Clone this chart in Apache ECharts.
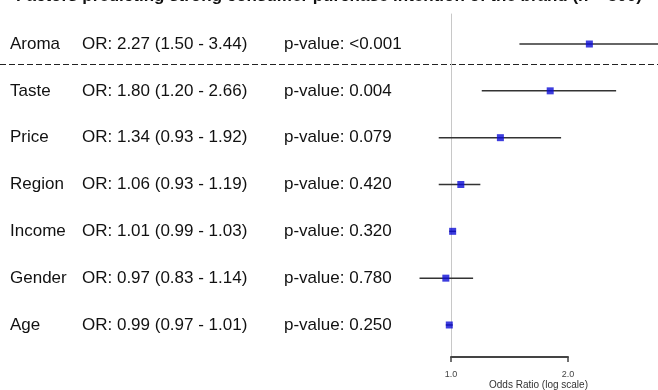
<!DOCTYPE html>
<html>
<head>
<meta charset="utf-8">
<title>Forest plot</title>
<script src="https://cdn.jsdelivr.net/npm/echarts@6/dist/echarts.min.js"></script>
<style>
  html, body { margin: 0; padding: 0; background: #fff; }
  #main { width: 658px; height: 390px; }
</style>
</head>
<body>
<div id="main"></div>
<script>
// 变量与结果
const categories = ['Aroma', 'Taste', 'Price', 'Region', 'Income', 'Gender', 'Age'];
const oddsRatios = [2.27, 1.80, 1.34, 1.06, 1.01, 0.97, 0.99];
const ciLower = [1.50, 1.20, 0.93, 0.93, 0.99, 0.83, 0.97];
const ciUpper = [3.44, 2.66, 1.92, 1.19, 1.03, 1.14, 1.01];
const pValues = ['<0.001', '0.004', '0.079', '0.420', '0.320', '0.780', '0.250'];
const axisTicks = [1.0, 2.0];
const titleText = 'Factors predicting strong consumer purchase intention of the brand (n = 500)';

const fontFamily = '"Liberation Sans", Arial, sans-serif';

const barData = categories.map((c, i) => [ciLower[i], ciUpper[i], i]);
const pointData = categories.map((c, i) => [oddsRatios[i], i]);

const myChart = echarts.init(document.getElementById('main'));
myChart.setOption({
  backgroundColor: '#fff',
  animation: false,
  textStyle: { fontFamily: fontFamily },
  graphic: [
    { // 标题（上半部分被裁掉）
      type: 'text', left: 'center', top: -12,
      style: { text: titleText, font: 'bold 17px ' + fontFamily, fill: '#111' }
    },
    { // 分隔虚线
      type: 'line',
      shape: { x1: 0, y1: 64.5, x2: 658, y2: 64.5 },
      style: { stroke: '#222', lineWidth: 1, lineDash: [6, 3] }
    }
  ],
  grid: [
    { left: 419, right: 0, top: 20.6, bottom: 41.6, containLabel: false, outerBoundsMode: 'none' },
    { left: 451, width: 117, top: 14, bottom: 33, containLabel: false, outerBoundsMode: 'none' }
  ],
  xAxis: [
    {
      gridIndex: 0,
      type: 'log',
      logBase: 10,
      min: 0.8274,
      max: 3.409,
      name: 'Odds Ratio (log scale)',
      nameLocation: 'middle',
      nameGap: 32,
      nameTextStyle: { fontSize: 10, color: '#333' },
      axisLine: { show: false },
      axisTick: { show: false },
      axisLabel: { show: false },
      splitLine: { show: false }
    },
    {
      gridIndex: 1,
      type: 'value',
      min: axisTicks[0],
      max: axisTicks[1],
      interval: 1,
      axisLine: { show: true, lineStyle: { color: '#444', width: 2 } },
      axisTick: { show: true, length: 5, lineStyle: { color: '#444', width: 1.5 } },
      axisLabel: { fontSize: 9, color: '#444', margin: 13, formatter: v => v.toFixed(1) },
      splitLine: { show: false }
    }
  ],
  yAxis: [
    {
      gridIndex: 0,
      type: 'category',
      inverse: true,
      data: categories,
      axisLine: { show: false },
      axisTick: { show: false },
      splitLine: { show: false },
      axisLabel: {
        interval: 0,
        align: 'left',
        margin: 409,
        color: '#111',
        fontSize: 17,
        formatter: (name, i) =>
          '{n|' + name + '}{o|OR: ' + oddsRatios[i].toFixed(2) + ' (' + ciLower[i].toFixed(2) +
          ' - ' + ciUpper[i].toFixed(2) + ')}{p|p-value: ' + pValues[i] + '}',
        rich: {
          n: { width: 72, fontSize: 17, color: '#111' },
          o: { width: 202, fontSize: 17, color: '#111' },
          p: { fontSize: 17, color: '#111' }
        }
      }
    },
    { // 参考线 OR = 1
      gridIndex: 1,
      type: 'value',
      min: 0, max: 1,
      axisLine: { show: true, lineStyle: { color: '#c8c8c8', width: 1 } },
      axisTick: { show: false },
      axisLabel: { show: false },
      splitLine: { show: false }
    }
  ],
  series: [
    {
      name: 'CI',
      type: 'custom',
      xAxisIndex: 0,
      yAxisIndex: 0,
      encode: { x: [0, 1], y: 2 },
      renderItem: function (params, api) {
        const p1 = api.coord([api.value(0), api.value(2)]);
        const p2 = api.coord([api.value(1), api.value(2)]);
        return {
          type: 'line',
          shape: { x1: p1[0], y1: p1[1], x2: p2[0], y2: p2[1] },
          style: { stroke: '#333', lineWidth: 1.5 }
        };
      },
      data: barData,
      z: 2
    },
    {
      name: 'OR',
      type: 'scatter',
      xAxisIndex: 0,
      yAxisIndex: 0,
      symbol: 'rect',
      symbolSize: 7,
      itemStyle: { color: '#0c0cd6' },
      data: pointData,
      z: 3
    }
  ]
});
</script>
</body>
</html>
